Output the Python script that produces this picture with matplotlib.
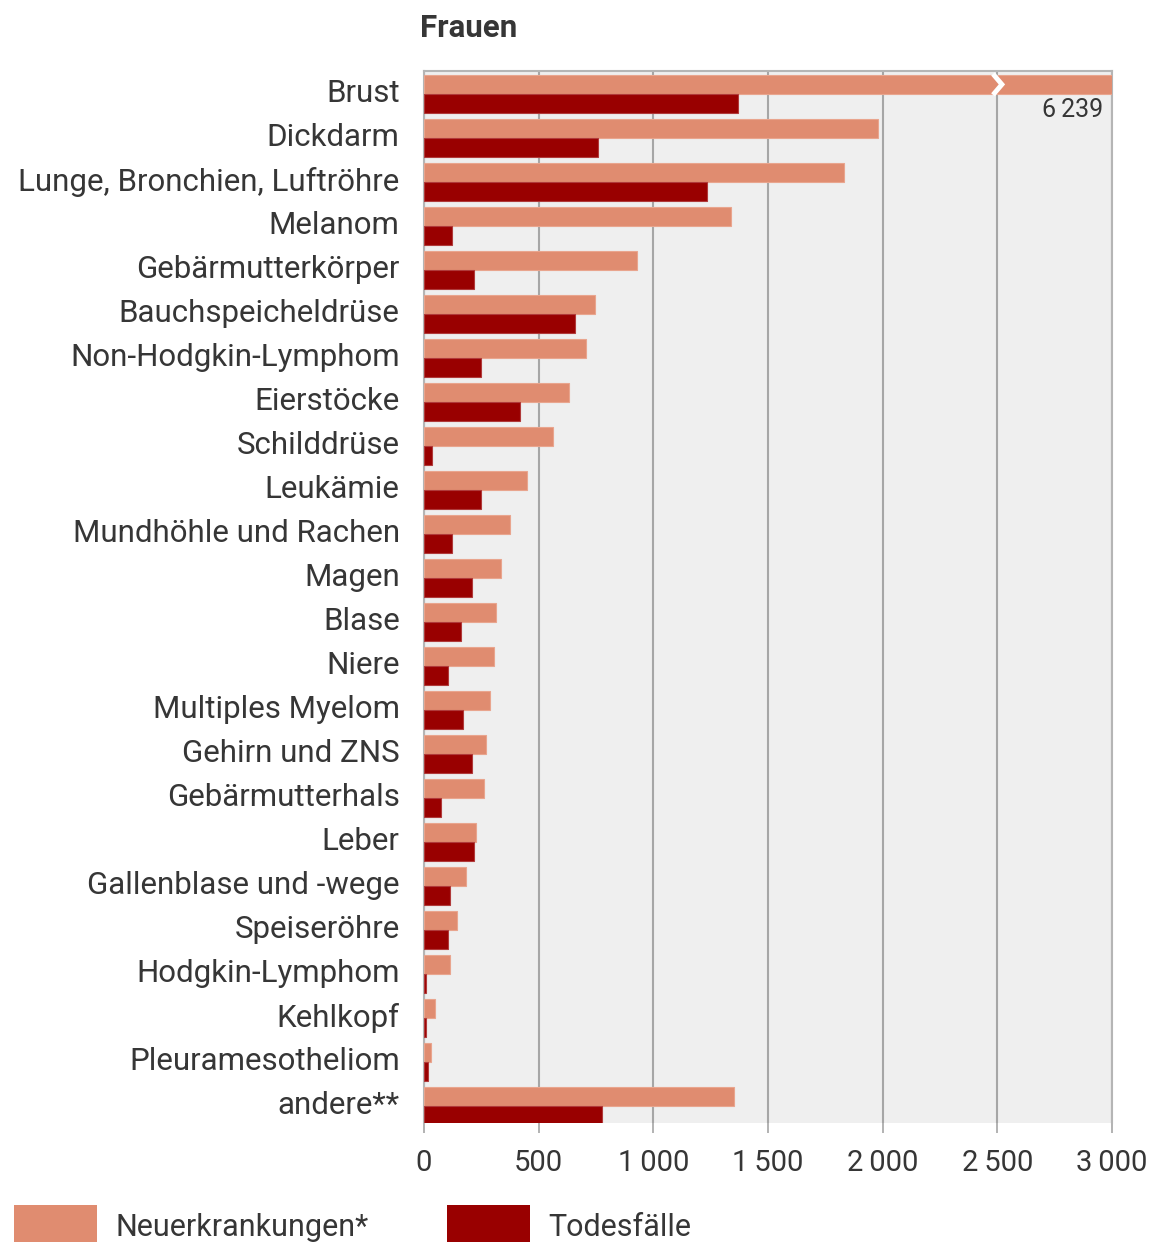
import matplotlib
matplotlib.use("Agg")
import matplotlib.pyplot as plt
from matplotlib.patches import Rectangle
from matplotlib.transforms import ScaledTranslation
import numpy as np

plt.rcParams['font.family'] = ['Roboto', 'DejaVu Sans']

categories = ["Brust", "Dickdarm", "Lunge, Bronchien, Luftröhre", "Melanom",
              "Gebärmutterkörper", "Bauchspeicheldrüse", "Non-Hodgkin-Lymphom",
              "Eierstöcke", "Schilddrüse", "Leukämie", "Mundhöhle und Rachen",
              "Magen", "Blase", "Niere", "Multiples Myelom", "Gehirn und ZNS",
              "Gebärmutterhals", "Leber", "Gallenblase und -wege", "Speiseröhre",
              "Hodgkin-Lymphom", "Kehlkopf", "Pleuramesotheliom", "andere**"]
neuerkrankungen = [6239, 1980, 1830, 1340, 930, 747, 707, 633, 563, 450, 376,
                   336, 314, 306, 288, 271, 262, 227, 183, 144, 115, 48, 29, 1351]
todesfaelle = [1368, 757, 1233, 122, 218, 659, 249, 419, 35, 249, 122,
               210, 162, 105, 170, 210, 74, 218, 114, 106, 10, 10, 19, 774]
xticks = [0, 500, 1000, 1500, 2000, 2500, 3000]
xticklabels = ["0", "500", "1\u202f000", "1\u202f500", "2\u202f000", "2\u202f500", "3\u202f000"]
xmax = 3000
break_value = 2500
series_names = ["Neuerkrankungen*", "Todesfälle"]

c_neu = "#E08C70"
c_tod = "#990000"
text_c = "#363636"
grid_c = "#a6a6a6"

W, H = 1155, 1242
fig = plt.figure(figsize=(W / 100, H / 100), dpi=100)
ax = fig.add_axes([424 / W, 1 - 1123 / H, (1112 - 424) / W, (1123 - 71) / H])
ax.set_facecolor("#efefef")

y = np.arange(len(categories))
h = 0.43
neu_plot = [min(v, xmax) for v in neuerkrankungen]
ax.barh(y - h / 2, neu_plot, height=h, color=c_neu, edgecolor="#e9a58e", linewidth=0.8, zorder=3)
ax.barh(y + h / 2, todesfaelle, height=h, color=c_tod, edgecolor="#b03a3a", linewidth=0.8, zorder=3)

# break marker on clipped bar
for i, v in enumerate(neuerkrankungen):
    if v > xmax:
        ax.plot([break_value - 12, break_value + 20, break_value - 12],
                [i - h + 0.02, i - h / 2, i - 0.02], color="white", lw=3.5,
                solid_joinstyle="miter", zorder=4)
        ax.text(2960, i + h / 2 + 0.15, f"{v:,}".replace(",", "\u202f"), ha="right", va="center",
                fontsize=18, color=text_c, zorder=5)

ax.set_xlim(0, xmax)
ax.set_ylim(23.39, -0.52)
ax.set_xticks(xticks)
ax.set_xticklabels(xticklabels, fontsize=21, color=text_c)
ax.set_yticks(y)
ax.set_yticklabels(categories, fontsize=22.5, color=text_c)
ax.tick_params(axis="y", length=0, pad=17.5)
ax.tick_params(axis="x", length=7, color=grid_c, width=1.2, pad=12)
shift = ScaledTranslation(0, 0.03, fig.dpi_scale_trans)
for lbl in ax.get_yticklabels():
    lbl.set_transform(lbl.get_transform() + shift)
ax.grid(axis="x", color=grid_c, lw=1.5, zorder=1)
ax.spines["bottom"].set_visible(False)
for s in ["top", "left", "right"]:
    ax.spines[s].set_color("#b5b5b5")
    ax.spines[s].set_linewidth(1.5)

fig.text(420 / W, 1 - 28 / H, "Frauen", fontsize=22.5, fontweight="bold", color=text_c,
         ha="left", va="center")

# legend
for x0, col, name in [(14, c_neu, series_names[0]), (447, c_tod, series_names[1])]:
    fig.patches.append(Rectangle((x0 / W, 1 - 1250 / H), 83 / W, 45 / H,
                                 transform=fig.transFigure, facecolor=col, edgecolor="none"))
    fig.text((x0 + 101) / W, 1 - 1228 / H, name, fontsize=22, color=text_c,
             ha="left", va="center")

fig.savefig("out.png", dpi=100)
